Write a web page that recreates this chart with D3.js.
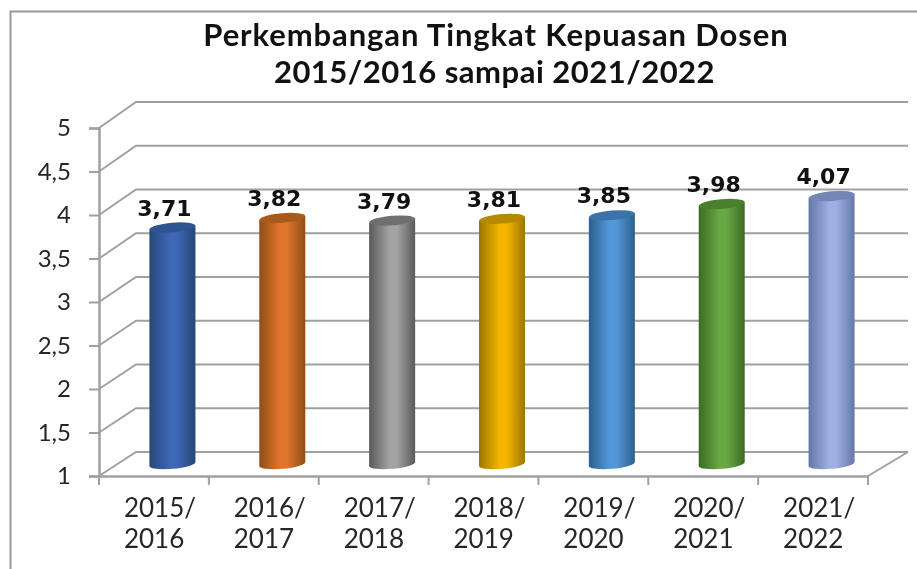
<!DOCTYPE html>
<html>
<head>
<meta charset="utf-8">
<script src="https://cdn.jsdelivr.net/npm/d3@7"></script>
<style>
  html, body { margin: 0; padding: 0; background: #fff; }
  svg { display: block; }
  .title { font-family: Lato, sans-serif; font-weight: 700; font-size: 31px; fill: #111; text-anchor: middle; }
  .val { font-family: "DejaVu Sans", sans-serif; font-weight: 700; font-size: 22px; fill: #111; text-anchor: middle; }
  .axis text { font-family: Lato, sans-serif; font-size: 24px; fill: #262626; }
  .xaxis text { font-size: 26px; }
</style>
</head>
<body>
<svg id="chart" width="917" height="569"></svg>
<script>
const categories = ["2015/2016", "2016/2017", "2017/2018", "2018/2019", "2019/2020", "2020/2021", "2021/2022"];
const values = [3.71, 3.82, 3.79, 3.81, 3.85, 3.98, 4.07];
const valueLabels = ["3,71", "3,82", "3,79", "3,81", "3,85", "3,98", "4,07"];
const yTicks = [1, 1.5, 2, 2.5, 3, 3.5, 4, 4.5, 5];
const titleLines = ["Perkembangan Tingkat Kepuasan Dosen", "2015/2016 sampai 2021/2022"];

// edge, centre, top
const palette = [
    ["#274676", "#3e68b6", "#2f5492"],
    ["#8f4e16", "#e2752c", "#a9591c"],
    ["#5a5a5a", "#a3a3a3", "#6f6f6f"],
    ["#9a7600", "#f6b500", "#b58a00"],
    ["#2c5f8e", "#5298d8", "#3a74aa"],
    ["#3c6b22", "#68a845", "#4b7f2d"],
    ["#6477a6", "#9eb0e4", "#7386b4"]
];

var svg = d3.select("#chart");
var gridColor = "#a0a0a0";

var depthX = 37;
var x = d3.scaleBand().domain(categories).range([99, 868]);
var y = d3.scaleLinear().domain([1, 5]).range([476, 128]);
var yBack = d3.scaleLinear().domain([1, 5]).range([452, 102]);
var barWidth = 46;
var ry = 4.8;
var tilt = -4;

// outer frame, only top and left are visible in the picture
svg.append("path")
    .attr("d", "M917,11.5H10.5V569")
    .attr("fill", "none")
    .attr("stroke", "#999")
    .attr("stroke-width", 2);

// the reference is a slightly soft screenshot
var root = svg.append("g").style("filter", "blur(0.4px)");

// title
root.selectAll(".title")
    .data(titleLines)
    .enter()
    .append("text")
    .attr("class", "title")
    .attr("x", (d, i) => i == 0 ? 496 : 494.5)
    .attr("y", (d, i) => 46 + i * 37)
    .style("letter-spacing", (d, i) => i == 0 ? "0.9px" : "0.5px")
    .text(d => d);

// gradients
var defs = svg.append("defs");
palette.forEach((p, i) => {
    var g = defs.append("linearGradient").attr("id", "bar" + i);
    g.append("stop").attr("offset", "0%").attr("stop-color", p[0]);
    g.append("stop").attr("offset", "45%").attr("stop-color", p[1]);
    g.append("stop").attr("offset", "60%").attr("stop-color", p[1]);
    g.append("stop").attr("offset", "100%").attr("stop-color", p[0]);
});

// walls
var grid = root.append("g")
    .attr("fill", "none")
    .attr("stroke", gridColor)
    .attr("stroke-width", 2);

grid.selectAll("path")
    .data(yTicks)
    .enter()
    .append("path")
    .attr("d", d => "M" + x.range()[0] + "," + y(d) + "L" + (x.range()[0] + depthX) + "," + yBack(d) + "H" + (x.range()[1] + depthX + 3));

grid.append("path")
    .attr("d", "M" + x.range()[1] + "," + y(1) + "L" + (x.range()[1] + depthX + 3) + "," + yBack(1));

// y axis
var yAxis = root.append("g")
    .attr("class", "axis")
    .attr("transform", "translate(99,0)")
    .call(d3.axisLeft(y).tickValues(yTicks).tickSize(10).tickPadding(18).tickFormat(d => String(d).replace(".", ",")));
yAxis.selectAll("line").attr("stroke", gridColor).attr("stroke-width", 2);
yAxis.select(".domain").attr("stroke", gridColor).attr("stroke-width", 2.5);

// x axis
var xAxis = root.append("g")
    .attr("class", "axis xaxis")
    .attr("transform", "translate(0," + y(1) + ")")
    .call(d3.axisBottom(x).tickSize(0).tickPadding(0).tickFormat(""));
xAxis.select(".domain").attr("stroke", gridColor).attr("stroke-width", 2.5);
xAxis.selectAll(".tick line").remove();

var boundaries = categories.map(c => x(c)).concat([x.range()[1]]);
xAxis.selectAll(".sep")
    .data(boundaries)
    .enter()
    .append("line")
    .attr("class", "sep")
    .attr("x1", d => d)
    .attr("x2", d => d)
    .attr("y1", 0)
    .attr("y2", 9)
    .attr("stroke", gridColor)
    .attr("stroke-width", 2);

xAxis.selectAll(".tick text").each(function(d) {
    var parts = d.split("/");
    var t = d3.select(this).text(null).attr("text-anchor", "start").attr("y", 0).attr("dy", null);
    t.append("tspan").attr("x", -30).attr("y", 41).text(parts[0] + "/");
    t.append("tspan").attr("x", -30).attr("y", 72).text(parts[1]);
});

// bars
function barX(d) { return x(d) + x.bandwidth() / 2 + depthX / 2; }
function barY(v) { return (y(v) + yBack(v)) / 2; }

var rot = Math.atan2(tilt, barWidth) * 180 / Math.PI;
var bars = root.selectAll(".bar")
    .data(categories)
    .enter()
    .append("g")
    .attr("class", "bar");

bars.append("path")
    .attr("fill", (d, i) => "url(#bar" + i + ")")
    .attr("d", (d, i) => {
        var cx = barX(d), l = cx - barWidth / 2, r = cx + barWidth / 2;
        var top = barY(values[i]), bottom = barY(1);
        return "M" + l + "," + (top - tilt / 2) +
            "L" + l + "," + (bottom - tilt / 2) +
            "A" + (barWidth / 2) + "," + ry + " " + rot + " 0 0 " + r + "," + (bottom + tilt / 2) +
            "L" + r + "," + (top + tilt / 2) + "Z";
    });

bars.append("ellipse")
    .attr("rx", barWidth / 2)
    .attr("ry", ry)
    .attr("fill", (d, i) => palette[i][2])
    .attr("transform", (d, i) => "translate(" + barX(d) + "," + barY(values[i]) + ") rotate(" + rot + ")");

bars.append("text")
    .attr("class", "val")
    .attr("x", d => barX(d) - 8)
    .attr("y", (d, i) => barY(values[i]) - 12)
    .text((d, i) => valueLabels[i]);
</script>
</body>
</html>
